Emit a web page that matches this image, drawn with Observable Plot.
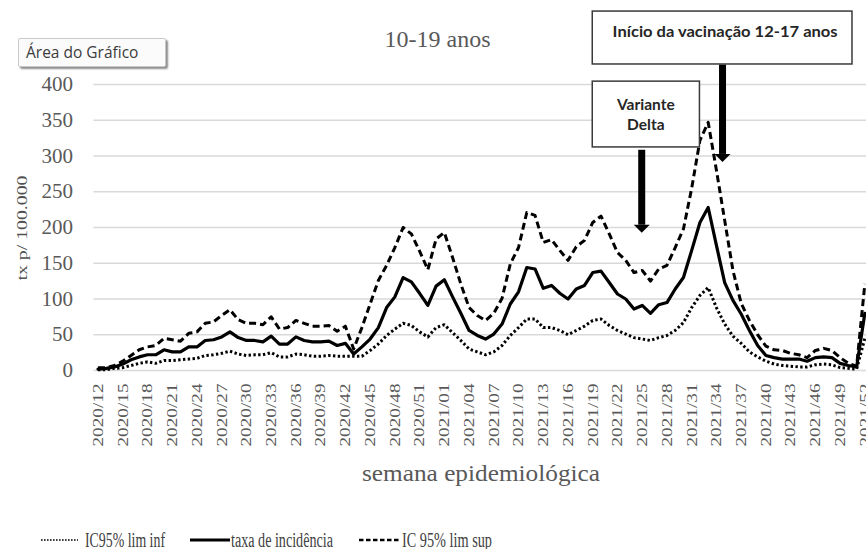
<!DOCTYPE html>
<html><head><meta charset="utf-8">
<script src="https://cdn.jsdelivr.net/npm/d3@7"></script>
<script src="https://cdn.jsdelivr.net/npm/@observablehq/plot@0.6"></script>
<style>
html,body{margin:0;padding:0;background:#fff;overflow:hidden;}
#wrap{position:relative;width:866px;height:549px;background:#fff;}
#wrap svg{position:absolute;left:0;top:0;}
#tip{position:absolute;left:18px;top:38px;width:148px;height:29px;box-sizing:border-box;
 background:#fbfbfb;border:1px solid #c9c9c9;border-radius:2px;box-shadow:2px 2px 2px rgba(0,0,0,0.45);
 font-family:"Open Sans",sans-serif;font-size:15.5px;color:#3c3c3c;line-height:27px;padding-left:7px;white-space:nowrap;}
</style></head><body><div id="wrap"></div>
<script>
const weeks = ["2020/12","2020/13","2020/14","2020/15","2020/16","2020/17","2020/18","2020/19","2020/20","2020/21",
"2020/22","2020/23","2020/24","2020/25","2020/26","2020/27","2020/28","2020/29","2020/30","2020/31",
"2020/32","2020/33","2020/34","2020/35","2020/36","2020/37","2020/38","2020/39","2020/40","2020/41",
"2020/42","2020/43","2020/44","2020/45","2020/46","2020/47","2020/48","2020/49","2020/50","2020/51",
"2020/52","2020/53",
"2021/01","2021/02","2021/03","2021/04","2021/05","2021/06","2021/07","2021/08","2021/09","2021/10",
"2021/11","2021/12","2021/13","2021/14","2021/15","2021/16","2021/17","2021/18","2021/19","2021/20",
"2021/21","2021/22","2021/23","2021/24","2021/25","2021/26","2021/27","2021/28","2021/29","2021/30",
"2021/31","2021/32","2021/33","2021/34","2021/35","2021/36","2021/37","2021/38","2021/39","2021/40",
"2021/41","2021/42","2021/43","2021/44","2021/45","2021/46","2021/47","2021/48","2021/49","2021/50",
"2021/51","2021/52"];

const taxa = [2,3,5,9,15,19,22,22,29,26,
26,33,33,42,43,47,54,46,42,42,
40,48,37,37,47,42,40,40,41,35,
38,23,33,44,60,88,103,130,124,108,
91,118,127,103,80,56,49,44,51,65,
93,110,144,142,115,119,108,100,114,119,
137,139,123,107,100,86,91,80,92,95,
114,130,168,207,228,175,123,98,79,56,
35,21,18,16,16,16,13,18,19,18,
10,7,5,80];

const limSup = [4,4,7,13,21,29,33,35,45,43,
41,52,54,66,68,77,85,71,66,66,
64,75,58,60,70,66,62,62,63,55,
62,30,60,93,126,147,172,200,191,167,
141,184,193,158,121,88,77,70,80,101,
149,172,221,217,179,183,168,154,173,182,
207,216,191,165,154,137,140,125,142,147,
172,198,255,322,347,280,210,140,94,70,
50,34,29,28,24,22,18,28,31,28,
18,10,6,121];

const limInf = [1,1,3,4,7,10,12,10,14,14,
15,16,17,21,22,24,27,23,21,22,
22,25,19,19,23,22,20,20,21,20,
20,20,20,28,37,49,58,66,63,54,
47,60,64,53,42,30,26,22,26,35,
49,60,72,72,60,60,56,50,56,62,
70,72,63,56,51,46,44,42,46,49,
56,67,88,105,116,88,65,48,38,26,
19,13,9,7,6,5,5,8,9,8,
4,3,2,45];

const xTickLabels = ["2020/12","2020/15","2020/18","2020/21","2020/24","2020/27","2020/30","2020/33","2020/36","2020/39",
"2020/42","2020/45","2020/48","2020/51","2021/01","2021/04","2021/07","2021/10","2021/13","2021/16",
"2021/19","2021/22","2021/25","2021/28","2021/31","2021/34","2021/37","2021/40","2021/43","2021/46",
"2021/49","2021/52"];
const yTicks = [0,50,100,150,200,250,300,350,400];

const title = "10-19 anos";
const yLabel = "tx p/ 100.000";
const xLabel = "semana epidemiológica";
const seriesNames = ["IC95% lim inf","taxa de incidência","IC 95% lim sup"];

// annotations, anchored in data space (x = week index, y = rate)
const notes = [
  {lines:["Variante","Delta"], x1:60, x2:73, yTop:404, yBottom:312, arrowX:66, arrowTop:308, arrowTip:192},
  {lines:["Início da vacinação 12-17 anos"], x1:60, x2:91.5, yTop:502, yBottom:428, arrowX:75.8, arrowTop:427, arrowTip:291}
];

const rows = weeks.map((w,i)=>({i, w, taxa:taxa[i], inf:limInf[i], sup:limSup[i]}));
const tickIdx = xTickLabels.map(w=>weeks.indexOf(w));

const W=866, H=549;
const serif = "'Liberation Serif','Times New Roman',serif";
const chart = Plot.plot({
  width: W, height: H,
  marginLeft: 93.4, marginRight: 0, marginTop: 84, marginBottom: 179,
  style: {background:"transparent", fontFamily: serif, overflow:"visible"},
  x: {type:"linear", domain:[-0.5, 93.2]},
  y: {domain:[0,400]},
  marks: [
    Plot.gridY({ticks: yTicks, stroke:"#d9d9d9", strokeOpacity:1, strokeWidth:1.3}),
    Plot.axisY({ticks: yTicks, tickSize:0, tickPadding:21, fontSize:21, fill:"#595959", label:null}),
    Plot.axisX({ticks: tickIdx, tickFormat: i=>weeks[i], tickSize:0, tickPadding:13, tickRotate:-90, fontSize:15, fill:"#595959", label:null}),
    Plot.line(rows, {x:"i", y:"inf", stroke:"#000", strokeWidth:3, strokeDasharray:"2.4,2.4", strokeLinecap:"butt"}),
    Plot.line(rows, {x:"i", y:"sup", stroke:"#000", strokeWidth:3, strokeDasharray:"7,4", strokeLinecap:"butt"}),
    Plot.line(rows, {x:"i", y:"taxa", stroke:"#000", strokeWidth:3.2})
  ]
});
document.getElementById("wrap").appendChild(chart);

// stretch rotated x tick labels to reference length
chart.querySelectorAll('g[aria-label="x-axis tick label"] text').forEach(t=>{
  t.setAttribute("textLength","63"); t.setAttribute("lengthAdjust","spacingAndGlyphs");
});

const sx = chart.scale("x"), sy = chart.scale("y");
const X = v=>sx.apply(v), Y = v=>sy.apply(v);
const svg = d3.select(chart);
const g = svg.append("g").attr("font-family", serif);

g.append("text").attr("x",437.5).attr("y",47).attr("text-anchor","middle")
 .attr("font-size",24).attr("fill","#595959").text(title);
g.append("text").attr("transform","translate(26.5,228) rotate(-90)").attr("text-anchor","middle")
 .attr("font-size",15).attr("fill","#505050").attr("textLength",105).attr("lengthAdjust","spacingAndGlyphs").text(yLabel);
g.append("text").attr("x",481).attr("y",481).attr("text-anchor","middle")
 .attr("font-size",24).attr("fill","#595959").attr("textLength",238).attr("lengthAdjust","spacingAndGlyphs").text(xLabel);

// legend
const leg = [
  {x1:41,x2:78,w:1.6,dash:"1.6,1.4",tx:85,len:80},
  {x1:190,x2:230,w:3.2,dash:null,tx:231,len:102},
  {x1:359,x2:400,w:2.6,dash:"4.5,2.5",tx:402,len:90}
];
leg.forEach((d,k)=>{
  const l = g.append("line").attr("x1",d.x1).attr("x2",d.x2).attr("y1",540).attr("y2",540)
    .attr("stroke","#000").attr("stroke-width",d.w);
  if (d.dash) l.attr("stroke-dasharray",d.dash);
  g.append("text").attr("x",d.tx).attr("y",546.5).attr("text-anchor","start").attr("font-size",20).attr("fill","#404040")
   .attr("textLength",d.len).attr("lengthAdjust","spacingAndGlyphs").text(seriesNames[k]);
});

// annotations
const ag = svg.append("g").attr("font-family","Lato, 'Open Sans', sans-serif").attr("font-weight",700);
notes.forEach((n,k)=>{
  const bx = X(n.x1), bw = X(n.x2)-X(n.x1), by = Y(n.yTop), bh = Y(n.yBottom)-Y(n.yTop);
  ag.append("rect").attr("x",bx).attr("y",by).attr("width",bw).attr("height",bh)
    .attr("fill","#fff").attr("stroke","#3a3a3a").attr("stroke-width",1.5);
  const cx = bx + bw/2;
  const base = k===0 ? [29,49] : [26];
  n.lines.forEach((s,j)=>{
    const t = ag.append("text").attr("x",cx + (k===1?3:0)).attr("y",by+base[j]).attr("text-anchor","middle")
      .attr("font-size",k===0 ? 15.5 : 15).attr("fill","#262626").text(s);
    if (k===1) t.attr("textLength",225).attr("lengthAdjust","spacingAndGlyphs");
  });
  const ax = X(n.arrowX), top = Y(n.arrowTop), tip = Y(n.arrowTip), hh = 8, hw = 8;
  ag.append("rect").attr("x",ax-3.5).attr("y",top).attr("width",7).attr("height",tip-hh-top).attr("fill","#000");
  ag.append("polygon").attr("points",`${ax-hw},${tip-hh} ${ax+hw},${tip-hh} ${ax},${tip}`).attr("fill","#000");
});

const tip = document.createElement("div");
tip.id = "tip"; tip.textContent = "Área do Gráfico";
document.getElementById("wrap").appendChild(tip);
</script></body></html>
